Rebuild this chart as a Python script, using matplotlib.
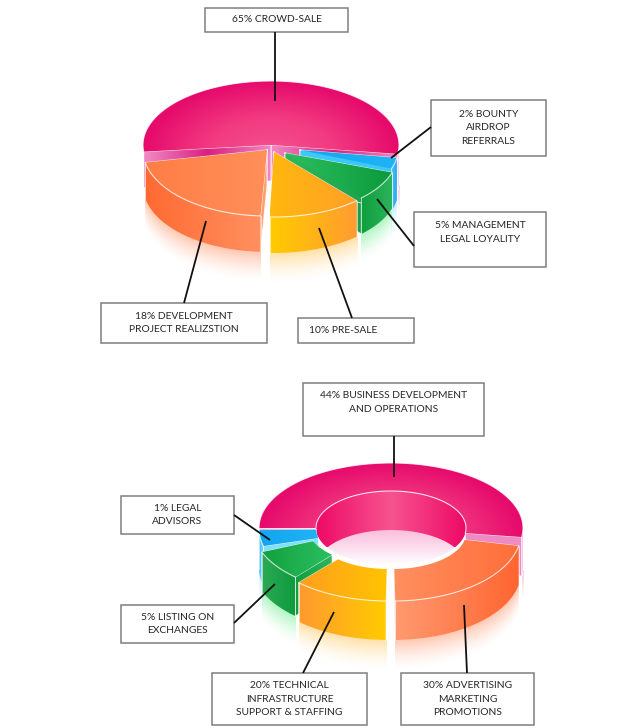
# ============================================================= #
#
# Two fake-3D pies (token sale / fund allocation) with callouts
#
# ============================================================= #
#
# Libraries
import matplotlib as mpl
mpl.use('Agg')
#
import matplotlib.pyplot as plt
from matplotlib.colors import LinearSegmentedColormap, to_rgb
from matplotlib.patches import PathPatch, Rectangle
from matplotlib.path import Path
import numpy as np

plt.rcParams['font.family'] = ['Lato', 'DejaVu Sans']
#
# ============================================================= #
#
# Data (percent from labels, drawn angles)

top_names = ["CROWD-SALE", "BOUNTY\nAIRDROP\nREFERRALS", "MANAGEMENT\nLEGAL LOYALITY",
             "PRE-SALE", "DEVELOPMENT\nPROJECT REALIZSTION"]
top_pct = [65, 2, 5, 10, 18]
top_start = [-8, -21, -47.5, -92, -169]
top_sweep = [194, 12.3, 28.8, 43.4, 76]

low_names = ["BUSINESS DEVELOPMENT\nAND OPERATIONS", "LEGAL\nADVISORS", "LISTING ON\nEXCHANGES",
             "TECHNICAL\nINFRASTRUCTURE\nSUPPORT & STAFFING", "ADVERTISING\nMARKETING\nPROMOTIONS"]
low_pct = [44, 1, 5, 20, 30]
low_start = [-8, -179, -158.5, -133, -89]
low_sweep = [188, 14, 26.5, 42, 78]

# The slices are pulled apart, each one has its own centre (px)
top_geo = [(271, 145, 128, 64, 0, 0, 36), (300, 150, 98, 52, 0, 0, 42), (285, 153, 113, 61, 0, 0, 36),
           (274, 152, 125, 65, 0, 0, 36), (267, 150, 124, 66, 0, 0, 36)]
low_geo = [(391, 528, 132, 65, 75, 37, 39), (387, 529, 128, 66, 71, 35, 39), (381, 528, 128, 66, 73, 36, 39),
           (388, 533, 131, 68, 73, 36, 39), (393, 533, 128, 68, 73, 36, 39)]

# Colours: top face, radial wall, outer wall, reflection
top_cols = [(['#e60a6c', '#f23a80', '#f4528f'], ['#f08ac4', '#d92080', '#f08ac4'], ['#f08ac4', '#ee7ab8'], '#f59ac8'),
            (['#12a4ee', '#20b4f6'], ['#3cc8fa', '#3cc8fa'], ['#5cc8f6', '#18a8f0'], '#a0e4ff'),
            (['#2ec060', '#0a9a3c'], ['#2fb55c', '#1a9e48'], ['#0f9e3e', '#2bb35a'], '#70ee90'),
            (['#ffb80f', '#ffa028'], ['#ffb80f', '#ffa028'], ['#ffcb00', '#ff9b32'], '#ffc860'),
            (['#ff7e45', '#ff8f5a'], ['#ffa070', '#ffa070'], ['#ff6a32', '#ff9060'], '#ff9a70')]
low_cols = [(['#e60a6c', '#f23a80', '#f4528f'], ['#f08ac4', '#f08ac4'], ['#f08ac4', '#ee80bc'], '#f59ac8'),
            (['#12a4ee', '#20b4f6'], ['#7fe0ff', '#7fe0ff'], ['#40bdf5', '#7fdcff'], '#a0e4ff'),
            (['#12a040', '#2cc060'], ['#0f9e3e', '#2fb55c'], ['#2ba955', '#0f9a3c'], '#70ee90'),
            (['#ff9f20', '#ffc400'], ['#ffa028', '#ffc400'], ['#ff9a30', '#ffcc00'], '#ffc860'),
            (['#ff9060', '#ff6e3a'], ['#ff9060', '#ff6e3a'], ['#ff9a70', '#ff6530'], '#ff9a70')]

# Callouts: box (x0, y0, x1, y1), leader (x0, y0, x1, y1), text anchor
top_boxes = [(205, 8, 348, 32), (431, 100, 546, 156), (414, 212, 546, 267), (298, 318, 414, 343), (101, 303, 267, 343)]
top_lines = [(275, 32, 275, 101), (431, 127, 391, 158), (414, 246, 377, 199), (352, 318, 319, 228), (184, 303, 206, 221)]
low_boxes = [(303, 383, 484, 436), (121, 496, 234, 534), (121, 605, 234, 643), (212, 673, 367, 725), (401, 673, 534, 725)]
low_lines = [(394, 436, 394, 477), (234, 515, 270, 540), (234, 623, 275, 584), (303, 673, 334, 612), (467, 673, 464, 605)]

#
# ============================================================= #
#
# Functions

# Points on an ellipse, y goes down because axes are in pixels
def arc(cx, cy, rx, ry, a0, a1, n=90) :
    t = np.radians(np.linspace(a0, a1, n))
    return cx + rx * np.cos(t), cy - ry * np.sin(t)

# Polygon filled with a gradient image (imshow clipped by the polygon)
def grad_fill(ax, xs, ys, stops, mode='x', z=2, edge=None) :
    x0, x1, y0, y1 = np.min(xs), np.max(xs), np.min(ys), np.max(ys)
    if x1 - x0 < 0.5 or y1 - y0 < 0.5 :
        return
    X, Y = np.meshgrid(np.linspace(x0, x1, 200), np.linspace(y0, y1, 200))
    if mode == 'x' :
        t = (X - x0) / (x1 - x0)
    elif mode == 'y' :
        t = (Y - y0) / (y1 - y0)
    else :
        # brighter spot near the front of the face
        mx = 0.5 * (x0 + x1)
        t = np.sqrt(((X - mx) / (0.5 * (x1 - x0)))**2 + ((Y - y1) / (y1 - y0))**2)
        t = 1 - np.clip(t, 0, 1)
    cmap = LinearSegmentedColormap.from_list('g', stops)
    im = ax.imshow(t, extent=(x0, x1, y1, y0), cmap=cmap, vmin=0, vmax=1, aspect='auto',
                   interpolation='bilinear', zorder=z)
    pts = np.column_stack([xs, ys])
    patch = PathPatch(Path(np.vstack([pts, pts[:1]])), transform=ax.transData)
    im.set_clip_path(patch)
    if edge is not None :
        ax.plot(np.append(xs, xs[0]), np.append(ys, ys[0]), color=edge, lw=0.7, alpha=0.8, zorder=z)

# Colour fading away below the bottom arc
def reflection(ax, geo, a0, a1, color, h=30, alpha=0.55, z=1) :
    cx, cy, rx, ry, irx, iry, d = geo
    a0, a1 = max(a0, -180), min(a1, 0)
    if a1 <= a0 :
        return
    xs, ys = arc(cx, cy, rx, ry, a0, a1)
    x0, x1 = xs.min(), xs.max()
    X, Y = np.meshgrid(np.linspace(x0, x1, 250), np.linspace(ys.min() + d, ys.max() + d + h, 250))
    yb = cy + d + ry * np.sqrt(np.clip(1 - ((X - cx) / rx)**2, 0, 1))
    A = alpha * np.clip(1 - (Y - yb) / h, 0, 1)**1.5
    A[Y < yb] = 0
    img = np.zeros(X.shape + (4,))
    img[..., :3] = to_rgb(color)
    img[..., 3] = A
    ax.imshow(img, extent=(x0, x1, Y.max(), Y.min()), aspect='auto', interpolation='bilinear', zorder=z)

# One slice: reflection, radial walls, outer wall and top face
def draw_slice(ax, geo, a0, sweep, cols, z, face_mode='x') :
    cx, cy, rx, ry, irx, iry, d = geo
    a1 = a0 + sweep
    top_c, wall_c, side_c, refl_c = cols
    reflection(ax, geo, a0, a1, refl_c)

    # radial walls
    for a in (a0, a1) :
        xo, yo = arc(cx, cy, rx, ry, a, a, 1)
        xi, yi = arc(cx, cy, irx, iry, a, a, 1)
        wx = np.array([xi[0], xo[0], xo[0], xi[0]])
        wy = np.array([yi[0], yo[0], yo[0] + d, yi[0] + d])
        grad_fill(ax, wx, wy, wall_c, 'x', z, edge='#ffffff')

    # outer wall, front half only
    b0, b1 = max(a0, -180), min(a1, 0)
    if b1 > b0 :
        xo, yo = arc(cx, cy, rx, ry, b0, b1)
        grad_fill(ax, np.r_[xo, xo[::-1]], np.r_[yo, yo[::-1] + d], side_c, 'x', z + 0.1)
        ax.plot(np.r_[xo[0], xo[0]], np.r_[yo[0], yo[0] + d], color='white', lw=0.6, alpha=0.7, zorder=z + 0.2)
        ax.plot(np.r_[xo[-1], xo[-1]], np.r_[yo[-1], yo[-1] + d], color='white', lw=0.6, alpha=0.7, zorder=z + 0.2)

    # top face
    xo, yo = arc(cx, cy, rx, ry, a0, a1)
    xi, yi = arc(cx, cy, irx, iry, a1, a0)
    grad_fill(ax, np.r_[xo, xi], np.r_[yo, yi], top_c, face_mode, z + 0.3)
    ax.plot(xo, yo, color='#ffffff', lw=0.8, alpha=0.75, zorder=z + 0.4)

# The hole of the ring: far inner wall and pale floor
def draw_hole(ax, geo, z) :
    cx, cy, rx, ry, irx, iry, d = geo
    xf, yf = arc(cx, cy, irx, iry, 0, 360, 180)
    grad_fill(ax, xf, yf, ['#f6a8d0', '#f6a8d0', '#fbd0e6', '#ffffff'], 'y', z)
    s = np.degrees(np.arcsin(min(d / (2.0 * iry), 1.0)))
    xa, ya = arc(cx, cy, irx, iry, -s, 180 + s)
    xb, yb = arc(cx, cy + d, irx, iry, 180 - s, s)
    grad_fill(ax, np.r_[xa, xb], np.r_[ya, yb], ['#ee0a66', '#f6548f', '#ee0a66'], 'x', z + 0.1)
    xh, yh = arc(cx, cy, irx, iry, -8, 180)
    ax.plot(xh, yh, color='white', lw=0.8, alpha=0.8, zorder=z + 0.2)

# Grey box, black leader and the label
def callout(ax, box, line, pct, name, va='center', ha='center', dy=0) :
    x0, y0, x1, y1 = box
    ax.add_patch(Rectangle((x0, y0), x1 - x0, y1 - y0, facecolor='white', edgecolor='#7f7f7f', lw=1.1, zorder=30))
    ax.plot(line[0::2], line[1::2], color='#111111', lw=1.3, zorder=31, solid_capstyle='butt')
    tx = 0.5 * (x0 + x1) if ha == 'center' else x0 + 11
    ty = 0.5 * (y0 + y1) + dy if va == 'center' else y0 + dy
    ax.text(tx, ty, str(pct) + "% " + name, ha=ha, va=va, fontsize=7.4, color='#262626',
            linespacing=1.7, zorder=32)

#
# ============================================================= #
#
# Main game
if __name__ == "__main__":

    fig = plt.figure(figsize=(6.25, 7.28), dpi=100)
    ax = fig.add_axes([0, 0, 1, 1])

    # Upper pie, pink at the back and orange last
    for i in np.arange(len(top_pct)) :
        mode = 'radial' if i == 0 else 'x'
        draw_slice(ax, top_geo[i], top_start[i], top_sweep[i], top_cols[i], 5 + 2 * i, mode)

    # Lower ring, same thing with the hole between pink and the rest
    for i in np.arange(len(low_pct)) :
        mode = 'radial' if i == 0 else 'x'
        draw_slice(ax, low_geo[i], low_start[i], low_sweep[i], low_cols[i], 5 + 2 * i, mode)
        if i == 0 :
            draw_hole(ax, low_geo[0], 6)

    # Callouts
    callout(ax, top_boxes[0], top_lines[0], top_pct[0], top_names[0])
    callout(ax, top_boxes[1], top_lines[1], top_pct[1], top_names[1])
    callout(ax, top_boxes[2], top_lines[2], top_pct[2], top_names[2], va='top', dy=9)
    callout(ax, top_boxes[3], top_lines[3], top_pct[3], top_names[3], ha='left')
    callout(ax, top_boxes[4], top_lines[4], top_pct[4], top_names[4])
    callout(ax, low_boxes[0], low_lines[0], low_pct[0], low_names[0], va='top', dy=8)
    callout(ax, low_boxes[1], low_lines[1], low_pct[1], low_names[1])
    callout(ax, low_boxes[2], low_lines[2], low_pct[2], low_names[2])
    callout(ax, low_boxes[3], low_lines[3], low_pct[3], low_names[3])
    callout(ax, low_boxes[4], low_lines[4], low_pct[4], low_names[4])

    ax.set_xlim(0, 625)
    ax.set_ylim(728, 0)
    ax.axis('off')
    plt.savefig('out.png', dpi=100)
    plt.close()
